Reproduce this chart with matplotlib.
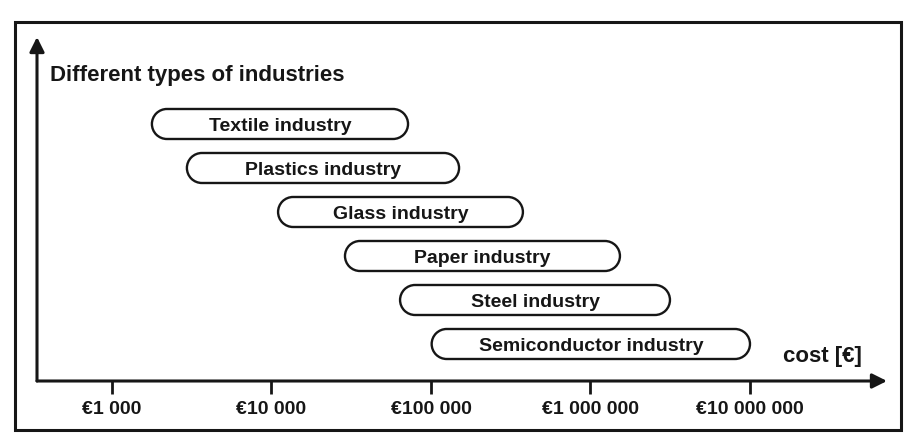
import numpy as np
import matplotlib
matplotlib.use("Agg")
import matplotlib.pyplot as plt
from matplotlib.patches import PathPatch, Rectangle
from matplotlib.path import Path
from matplotlib.transforms import IdentityTransform, Affine2D

plt.rcParams['font.family'] = ['Liberation Sans', 'DejaVu Sans']
plt.rcParams['font.weight'] = 'bold'

# industries, top to bottom, with estimated cost range [EUR]
industries = ["Textile industry", "Plastics industry", "Glass industry",
              "Paper industry", "Steel industry", "Semiconductor industry"]
cost_low = [1780, 2950, 11000, 28900, 64000, 101000]
cost_high = [71800, 150000, 377000, 1530000, 3150000, 10000000]

tick_values = [1e3, 1e4, 1e5, 1e6, 1e7]
tick_labels = ["€1 000", "€10 000", "€100 000", "€1 000 000", "€10 000 000"]

ink = '#161616'


def pill(x0, x1, yc, r):
    # stadium shape: right half circle, top line, left half circle
    right = Path.arc(-90, 90).transformed(Affine2D().scale(r).translate(x1 - r, yc))
    left = Path.arc(90, 270).transformed(Affine2D().scale(r).translate(x0 + r, yc))
    verts = np.concatenate([right.vertices, left.vertices, [[0, 0]]])
    codes = np.concatenate([right.codes, left.codes, [Path.CLOSEPOLY]])
    codes[len(right.codes)] = Path.LINETO
    return Path(verts, codes)


W, H = 911, 440
fig = plt.figure(figsize=(W / 100, H / 100), dpi=100)

# outer frame
fig.patches.append(Rectangle((15 / W, 10 / H), 886 / W, 408 / H, transform=fig.transFigure,
                             fill=False, lw=2.2, edgecolor=ink))

# axes: y axis at x=37px, x axis at y=381px (from top), arrows at 887px / 37px
ax = fig.add_axes([37 / W, (H - 381) / H, 850 / W, 344 / H])
ax.set_xscale('log')
ax.set_xlim(10 ** 2.530, 10 ** 7.859)
ax.set_ylim(-0.841, 6.977)
for s in ax.spines.values():
    s.set_visible(False)

ax.set_xticks(tick_values)
ax.set_xticklabels(tick_labels)
ax.xaxis.set_minor_locator(matplotlib.ticker.NullLocator())
ax.tick_params(axis='x', direction='out', length=9.5, width=2, color=ink,
               labelsize=14, labelcolor=ink, pad=5)
ax.set_yticks([])

arrow = dict(arrowstyle='-|>', lw=2.2, color=ink, mutation_scale=22, shrinkA=0, shrinkB=0)
ax.annotate('', xy=(1, 0), xytext=(0, 0), xycoords='axes fraction', arrowprops=arrow)
ax.annotate('', xy=(0, 1), xytext=(0, 0), xycoords='axes fraction', arrowprops=arrow)

ax.text(0.0153, 0.889, "Different types of industries", transform=ax.transAxes,
        ha='left', va='center', fontsize=16, color=ink)
ax.text(0.9706, 0.0698, "cost [€]", transform=ax.transAxes,
        ha='right', va='center', fontsize=16, color=ink)

# rounded bars, drawn in pixel space so the ends stay round on the log axis
n = len(industries)
rows = np.arange(n)[::-1]
box_h = 30
fig.canvas.draw()
for name, lo, hi, r in zip(industries, cost_low, cost_high, rows):
    x0, yc = ax.transData.transform((lo, r))
    x1, _ = ax.transData.transform((hi, r))
    ax.add_artist(PathPatch(pill(x0, x1, yc, box_h / 2), transform=IdentityTransform(),
                            facecolor='white', edgecolor=ink, lw=1.7, clip_on=False))
    ax.annotate(name, (np.sqrt(lo * hi), r), xytext=(0, -5), textcoords='offset points',
                ha='center', va='baseline', fontsize=14, color=ink)

fig.savefig("out.png", dpi=100)
